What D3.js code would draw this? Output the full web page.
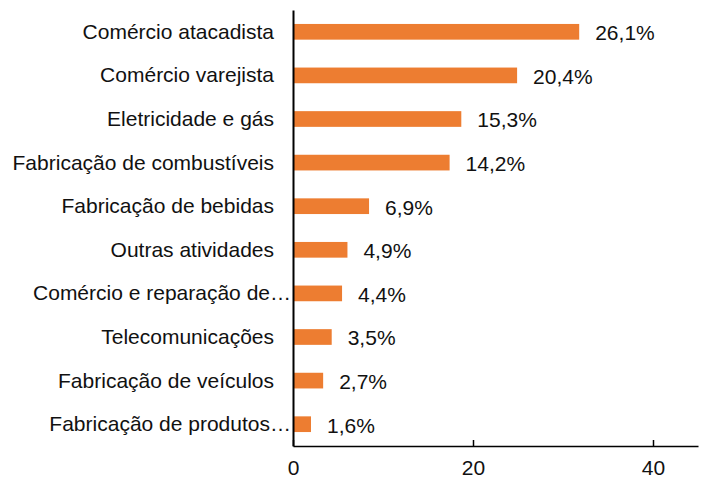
<!DOCTYPE html>
<html>
<head>
<meta charset="utf-8">
<script src="https://cdn.jsdelivr.net/npm/d3@7"></script>
<style>
  body { margin: 0; background: #fff; }
  text { font-family: "Liberation Sans", Arial, sans-serif; fill: #111; }
</style>
</head>
<body>
<div id="chart"></div>
<script>
// categories top to bottom
var categories = [
  "Comércio atacadista",
  "Comércio varejista",
  "Eletricidade e gás",
  "Fabricação de combustíveis",
  "Fabricação de bebidas",
  "Outras atividades",
  "Comércio e reparação de…",
  "Telecomunicações",
  "Fabricação de veículos",
  "Fabricação de produtos…"
];
// bar lengths as read against the 0-20-40 axis
var barValues = [31.8, 24.9, 18.7, 17.4, 8.45, 6.05, 5.45, 4.3, 3.35, 2.0];
// the data labels printed next to the bars
var valueLabels = ["26,1%", "20,4%", "15,3%", "14,2%", "6,9%", "4,9%", "4,4%", "3,5%", "2,7%", "1,6%"];
var xTicks = [0, 20, 40];

var width = 704, height = 479;
var fontSize = 21;

var svg = d3.select("#chart").append("svg")
  .attr("width", width)
  .attr("height", height);

var xScale = d3.scaleLinear().domain([0, 45]).range([293, 698]);
var yScale = d3.scaleBand()
  .domain(categories)
  .range([10, 446])
  .paddingInner(0.64)
  .paddingOuter(0.32);

// bars
svg.append("g")
  .selectAll("rect")
  .data(categories)
  .join("rect")
  .attr("x", xScale(0))
  .attr("y", d => yScale(d))
  .attr("width", (d, i) => xScale(barValues[i]) - xScale(0))
  .attr("height", yScale.bandwidth())
  .attr("fill", "#ED7D31");

// value labels
svg.append("g")
  .selectAll("text")
  .data(categories)
  .join("text")
  .attr("x", (d, i) => xScale(barValues[i]) + 16)
  .attr("y", d => yScale(d) + yScale.bandwidth() / 2)
  .attr("dy", "0.4em")
  .style("font-size", fontSize + "px")
  .text((d, i) => valueLabels[i]);

// x axis, ticks pointing up
var xAxis = svg.append("g")
  .attr("transform", "translate(0,446)")
  .call(d3.axisBottom(xScale).tickValues(xTicks).tickSizeInner(-6).tickSizeOuter(0).tickPadding(14));
xAxis.select(".domain").attr("stroke", "#000").attr("stroke-width", 1.5);
xAxis.selectAll(".tick line").attr("stroke", "#000").attr("stroke-width", 1.5);
xAxis.selectAll(".tick text")
  .attr("fill", "#111")
  .style("font-size", fontSize + "px")
  .style("font-family", "'Liberation Sans', Arial, sans-serif");

// y axis, no ticks
var yAxis = svg.append("g")
  .attr("transform", "translate(293,0)")
  .call(d3.axisLeft(yScale).tickSize(0).tickPadding(19));
yAxis.select(".domain").attr("stroke", "#000").attr("stroke-width", 2);
yAxis.selectAll(".tick text")
  .attr("fill", "#111")
  .attr("dy", "0.33em")
  .attr("dx", d => d.endsWith("…") ? 17 : 0)
  .style("font-size", fontSize + "px")
  .style("font-family", "'Liberation Sans', Arial, sans-serif");
</script>
</body>
</html>
